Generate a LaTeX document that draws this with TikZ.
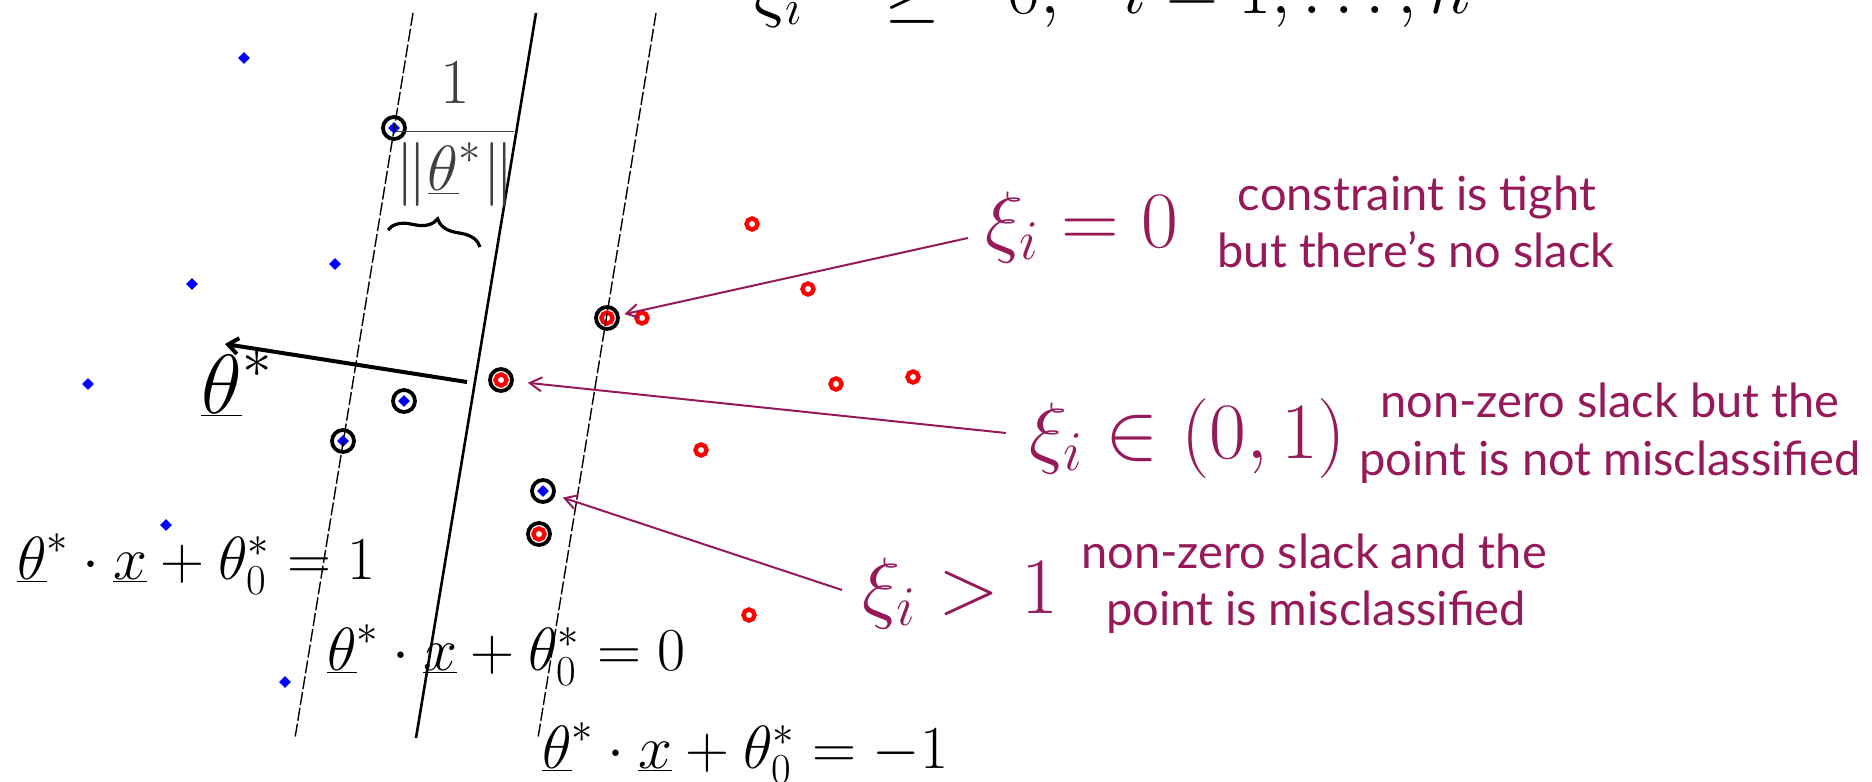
\documentclass[tikz,border=0pt]{standalone}
\usepackage{fix-cm}
\usepackage{fontspec}
\newfontfamily\gill{Lato}
\usetikzlibrary{arrows.meta,shapes.geometric,decorations.pathreplacing}
\definecolor{mag}{RGB}{150,25,90}
\begin{document}
\begin{tikzpicture}[x=0.5pt,y=-0.5pt,
  bdot/.style={diamond,fill=blue,inner sep=0pt,minimum size=6pt},
  rring/.style={circle,draw=red,line width=2.2pt,inner sep=0pt,minimum size=5.5pt},
  sv/.style={circle,draw=black,line width=1.9pt,inner sep=0pt,minimum size=11pt},
  dline/.style={line width=0.7pt,dash pattern=on 6.5pt off 1.5pt},
  sline/.style={line width=1.3pt},
  marrow/.style={draw=mag,line width=1pt,-{Straight Barb[length=6pt,width=7pt]}},
  meq/.style={text=mag,font=\fontsize{40}{48}\selectfont,inner sep=0pt,anchor=base west},
  beq/.style={font=\fontsize{30.5}{36}\selectfont,inner sep=0pt,anchor=base west},
  teq/.style={font=\fontsize{36}{42}\selectfont,inner sep=0pt,anchor=base west},
  note/.style={text=mag,font=\gill\fontsize{23.5}{28.5}\selectfont,inner sep=0pt,anchor=base},
]
\useasboundingbox (0,0) rectangle (1872,781);

% top (cut) constraint
\node[teq] (t1) at (754,14) {$\xi_i$};
\node[teq] (t2) at (884,14) {$\geq$};
\node[teq] (t3) at (1007,14) {$0,$};
\node[teq] (t4) at (1122,14) {$i = 1,\ldots,n$};

% plain points
\foreach \p/\xx/\yy in {1/244/58,2/335/264,3/192/284,4/88/384,5/166/525,6/285/682}
  \node[bdot] (b\p) at (\xx,\yy) {};
\foreach \p/\xx/\yy in {1/752/224,2/808/289,3/642/318,4/836/384,5/913/377,6/701/450,7/749/615}
  \node[rring] (r\p) at (\xx,\yy) {};

% circled points
\node[sv] (s1) at (394,128) {};  \node[bdot] at (s1) {};
\node[sv] (s2) at (404,401) {};  \node[bdot] at (s2) {};
\node[sv] (s3) at (343,441) {};  \node[bdot] at (s3) {};
\node[sv] (s4) at (543,491) {};  \node[bdot] at (s4) {};
\node[sv] (s5) at (607,318) {};  \node[rring] at (s5) {};
\node[sv] (s6) at (501,380) {};  \node[rring] at (s6) {};
\node[sv] (s7) at (539,534) {};  \node[rring] at (s7) {};

% lines
\coordinate (la) at (413,13);  \coordinate (lb) at (295,738);
\coordinate (ma) at (536,13);  \coordinate (mb) at (416,738);
\coordinate (ra) at (656,13);  \coordinate (rb) at (538,738);
\draw[dline] (la) -- (lb);
\draw[sline] (ma) -- (mb);
\draw[dline] (ra) -- (rb);

% normal vector
\coordinate (o) at (467,382);
\coordinate (tt) at (225,344);
\draw[line width=2pt,-{Straight Barb[length=5pt,width=8pt]}] (o) -- (tt);
\node[font=\fontsize{42}{50}\selectfont,inner sep=0pt,anchor=base west] (thl) at (201,413) {$\underline{\theta}^*$};

% margin
\node[font=\fontsize{32}{38}\selectfont,text=black!75,inner sep=0pt,anchor=base] (fr) at (455,147) {$\displaystyle\frac{1}{\|\underline{\theta}^*\|}$};
\coordinate (br1) at (388,230);
\coordinate (br2) at (480,247);
\draw[line width=1.6pt,decorate,decoration={brace,amplitude=10pt}] (br1) -- (br2);

% hyperplane equations
\node[beq] (e1) at (17,579) {$\underline{\theta}^* \cdot \underline{x} + \theta_0^* = 1$};
\node[beq] (e0) at (327,670) {$\underline{\theta}^* \cdot \underline{x} + \theta_0^* = 0$};
\node[beq] (em) at (542,768) {$\underline{\theta}^* \cdot \underline{x} + \theta_0^* = -1$};

% slack labels
\node[meq] (x1) at (985,247) {$\xi_i = 0$};
\node[meq] (x2) at (1029,458) {$\xi_i \in (0,1)$};
\node[meq] (x3) at (862,613) {$\xi_i > 1$};

\node[note] (n1a) at (1417,210) {constraint is tight};
\node[note] (n1b) at (1416,267) {but there’s no slack};
\node[note] (n2a) at (1610,417) {non-zero slack but the};
\node[note] (n2b) at (1610,475) {point is not misclassified};
\node[note] (n3a) at (1314,568) {non-zero slack and the};
\node[note] (n3b) at (1316,625) {point is misclassified};

% arrows
\coordinate (a1) at (968,238);
\coordinate (a2) at (1006,433);
\coordinate (a3) at (842,590);
\draw[marrow,shorten >=2.5pt] (a1) -- (s5);
\draw[marrow,shorten >=7pt] (a2) -- (s6);
\draw[marrow,shorten >=4pt] (a3) -- (s4);
\end{tikzpicture}
\end{document}
